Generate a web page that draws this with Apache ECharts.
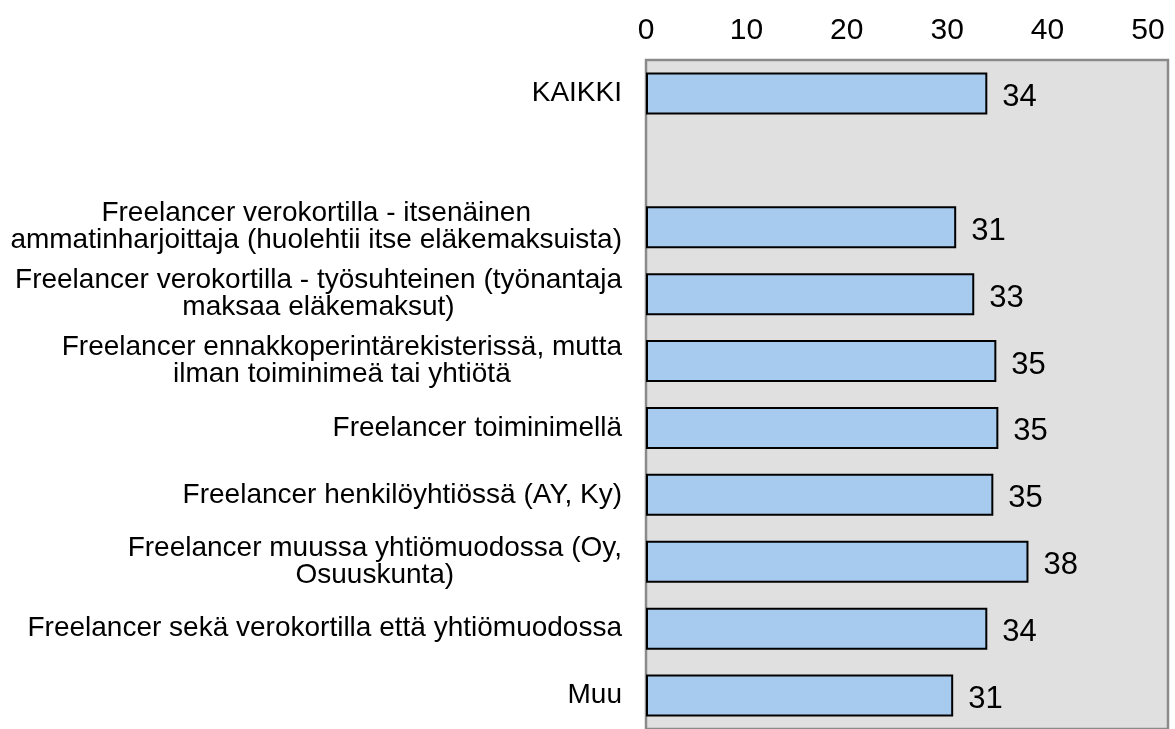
<!DOCTYPE html>
<html>
<head>
<meta charset="utf-8">
<script src="https://cdn.jsdelivr.net/npm/echarts@6/dist/echarts.min.js"></script>
<style>
  html, body { margin: 0; padding: 0; background: #fff; }
  #chart { width: 1175px; height: 729px; }
</style>
</head>
<body>
<div id="chart"></div>
<script>
// kategoriat (tyhjä rivi KAIKKI-rivin jälkeen)
var categories = [
  'KAIKKI',
  '',
  'Freelancer verokortilla - itsenäinen\nammatinharjoittaja (huolehtii itse eläkemaksuista)',
  'Freelancer verokortilla - työsuhteinen (työnantaja\nmaksaa eläkemaksut)',
  'Freelancer ennakkoperintärekisterissä, mutta\nilman toiminimeä tai yhtiötä',
  'Freelancer toiminimellä',
  'Freelancer henkilöyhtiössä (AY, Ky)',
  'Freelancer muussa yhtiömuodossa (Oy,\nOsuuskunta)',
  'Freelancer sekä verokortilla että yhtiömuodossa',
  'Muu'
];
var values = [34.0, null, 30.9, 32.7, 34.9, 35.1, 34.6, 38.1, 34.0, 30.6];
var xTicks = [0, 10, 20, 30, 40, 50];

var font = "'Liberation Sans', Arial, sans-serif";
var myChart = echarts.init(document.getElementById('chart'));

myChart.setOption({
  animation: false,
  grid: {
    left: 646,
    right: 7,
    top: 60,
    bottom: -7,
    show: true,
    backgroundColor: '#e0e0e0',
    borderColor: '#8a8a8a',
    borderWidth: 2.5
  },
  xAxis: {
    type: 'value',
    position: 'top',
    min: 0,
    max: 52,
    interval: 10,
    axisLine: { show: false },
    axisTick: { show: false },
    splitLine: { show: false },
    axisLabel: {
      margin: 14,
      color: '#000',
      fontFamily: font,
      fontSize: 30,
      formatter: function (v) {
        return xTicks.indexOf(v) >= 0 ? String(v) : '';
      }
    }
  },
  yAxis: {
    type: 'category',
    inverse: true,
    data: categories,
    axisLine: { show: false },
    axisTick: { show: false },
    splitLine: { show: false },
    axisLabel: {
      margin: 24,
      color: '#000',
      interval: 0,
      formatter: function (v) {
        if (!v) return '';
        return v.split('\n').map(function (s) { return '{c|' + s + '}'; }).join('\n');
      },
      rich: {
        c: {
          align: 'center',
          color: '#000',
          fontFamily: font,
          fontSize: 28,
          lineHeight: 27
        }
      }
    }
  },
  series: [
    {
      type: 'bar',
      data: values,
      barWidth: 42,
      itemStyle: {
        color: '#a7caef',
        borderColor: '#000',
        borderWidth: 2
      },
      label: {
        show: true,
        position: 'right',
        distance: 15,
        offset: [0, 4],
        color: '#000',
        fontFamily: font,
        fontSize: 31,
        formatter: function (p) {
          return Math.round(p.value);
        }
      }
    }
  ]
});
</script>
</body>
</html>
